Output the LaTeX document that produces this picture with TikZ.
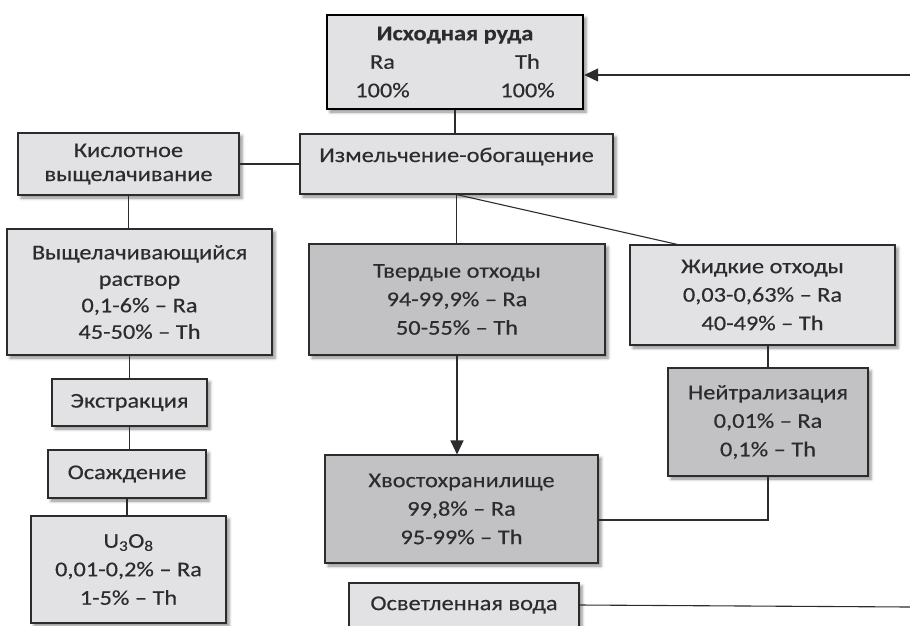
\documentclass[tikz,border=0pt]{standalone}
\usepackage{fontspec}
\setmainfont{Carlito}[FakeStretch=1.16,FakeBold=0.4]
\usepackage{tikz}
\usetikzlibrary{arrows.meta,shadows.blur}
\definecolor{boxlight}{HTML}{E2E2E4}
\definecolor{boxdark}{HTML}{C2C2C4}
\definecolor{ink}{HTML}{2C2C2C}

\begin{document}
\begin{tikzpicture}[x=1pt,y=-1pt,
	box/.style={shape=rectangle,draw=ink,line width=1.1pt,fill=boxlight,text=ink,align=center,inner sep=0pt,
		font=\fontsize{21}{28.5}\selectfont,
		blur shadow={shadow xshift=3pt,shadow yshift=-3pt,shadow blur radius=3pt,shadow opacity=45}},
	darkbox/.style={box,fill=boxdark},
	link/.style={draw=ink,line width=1.1pt},
	tip/.style={-{Triangle[length=14pt,width=13pt]}}]
	
	\useasboundingbox (0,0) rectangle (910,625);
	\clip (0,0) rectangle (910,625);
	
	\node[box,draw=black,line width=2.4pt,minimum width=256,minimum height=94] (ore) at (455,62)
		{\textbf{Исходная руда}\\\makebox[60pt]{Ra}\hspace{85pt}\makebox[60pt]{Th}\\\makebox[60pt]{100\%}\hspace{85pt}\makebox[60pt]{100\%}};
	\node[box,minimum width=313,minimum height=60,text height=18pt,text depth=22pt] (grind) at (456.5,164) {Измельчение-обогащение};
	\node[box,minimum width=221,minimum height=62,font=\fontsize{21}{24}\selectfont] (acid) at (128.5,164) {Кислотное\\выщелачивание};
	\node[box,minimum width=265,minimum height=126,font=\fontsize{21}{26.5}\selectfont] (leach) at (139.5,292) {Выщелачивающийся\\раствор\\0,1-6\% – Ra\\45-50\% – Th};
	\node[box,minimum width=155,minimum height=47] (extr) at (129.5,402.5) {Экстракция};
	\node[box,minimum width=158,minimum height=48] (prec) at (127,474) {Осаждение};
	\node[box,minimum width=195,minimum height=107] (uox) at (128.5,569.5) {U\textsubscript{3}O\textsubscript{8}\\0,01-0,2\% – Ra\\1-5\% – Th};
	\node[darkbox,minimum width=296,minimum height=111] (solid) at (457,299.5) {Твердые отходы\\94-99,9\% – Ra\\50-55\% – Th};
	\node[box,minimum width=265,minimum height=100] (liquid) at (762.5,295) {Жидкие отходы\\0,03-0,63\% – Ra\\40-49\% – Th};
	\node[darkbox,minimum width=200,minimum height=108] (neutr) at (768,422) {Нейтрализация\\0,01\% – Ra\\0,1\% – Th};
	\node[darkbox,minimum width=273,minimum height=108] (tail) at (461.5,509) {Хвостохранилище\\99,8\% – Ra\\95-99\% – Th};
	\node[box,minimum width=230,minimum height=44] (water) at (464,605) {Осветленная вода};
	
	\coordinate (orein) at (910,75);
	\coordinate (lq) at ([xshift=48pt]liquid.north west);
	\coordinate (waterout) at (910,607);
	
	\draw[link,tip] (orein) -- (ore.east |- orein);
	\path[link] (ore.south) edge (ore.south |- grind.north);
	\path[link] (acid) edge (grind);
	\path[link] (acid.south) edge (acid.south |- leach.north);
	\path[link] (extr.north |- leach.south) edge (extr.north);
	\path[link] (extr.south) edge (extr.south |- prec.north);
	\path[link] (prec.south) edge (prec.south |- uox.north);
	\path[link] (grind.south) edge (grind.south |- solid.north);
	\path[link] (grind.south) edge (lq);
	\draw[link,tip] (solid.south) -- (solid.south |- tail.north);
	\path[link] (neutr.north |- liquid.south) edge (neutr.north);
	\draw[link] (neutr.south) |- ([yshift=-11pt]tail.east);
	\path[link] (water.east) edge (waterout);
\end{tikzpicture}
\end{document}
